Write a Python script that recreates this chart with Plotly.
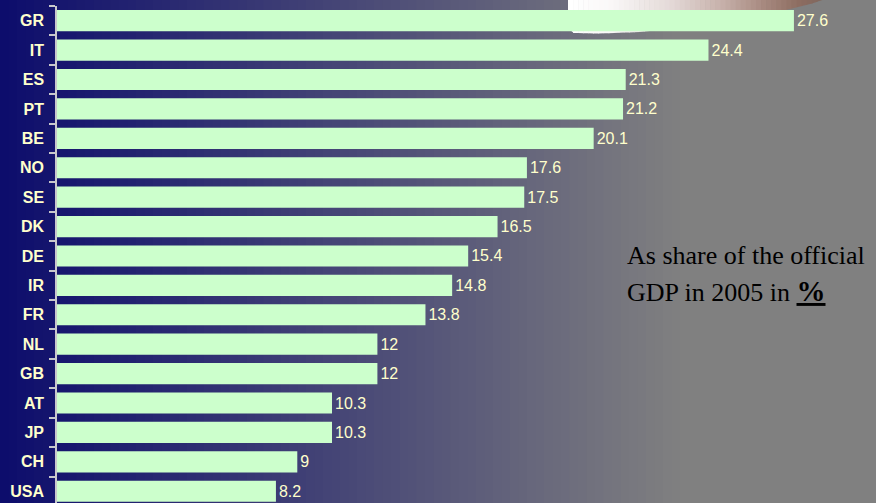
import plotly.graph_objects as go

countries = ["GR", "IT", "ES", "PT", "BE", "NO", "SE", "DK", "DE",
             "IR", "FR", "NL", "GB", "AT", "JP", "CH", "USA"]
values = [27.6, 24.4, 21.3, 21.2, 20.1, 17.6, 17.5, 16.5, 15.4,
          14.8, 13.8, 12, 12, 10.3, 10.3, 9, 8.2]

note_lines = ["As share of the official",
              "GDP in 2005 in <b><u><span style='font-size:29px'>%</span></u></b>"]

W, H = 876, 503


def px_x(x):
    return x / W


def px_y(y):
    return 1 - y / H


def lerp_color(stops, x):
    for (xa, ca), (xb, cb) in zip(stops[:-1], stops[1:]):
        if xa <= x <= xb:
            t = (x - xa) / (xb - xa)
            return tuple(round(a + (b - a) * t) for a, b in zip(ca, cb))
    return stops[-1][1]


def lerp_edge(pts, x):
    for (xa, ya), (xb, yb) in zip(pts[:-1], pts[1:]):
        if xa <= x <= xb:
            return ya + (yb - ya) * (x - xa) / (xb - xa)
    return pts[-1][1]


# background: navy on the left fading into grey
shapes = []
n_strips = 80
grad_end = 680
left_rgb = (12, 12, 108)
right_rgb = (128, 128, 128)
for i in range(n_strips):
    t = (i + 0.5) / n_strips
    c = [round(a + (b - a) * t) for a, b in zip(left_rgb, right_rgb)]
    shapes.append(dict(
        type="rect", xref="paper", yref="paper", layer="below",
        x0=px_x(grad_end * i / n_strips), x1=px_x(grad_end * (i + 1) / n_strips + 1),
        y0=0, y1=1, line_width=0, fillcolor=f"rgb({c[0]},{c[1]},{c[2]})",
    ))
shapes.append(dict(
    type="rect", xref="paper", yref="paper", layer="below",
    x0=px_x(grad_end), x1=1, y0=0, y1=1, line_width=0, fillcolor="rgb(128,128,128)",
))

# partly hidden clip-art at the top right (white to brown sheen)
art_edge = [(568, 28), (572, 33), (600, 33.5), (640, 32), (700, 26), (750, 18),
            (790, 9), (810, 4), (822, 0)]
art_cols = [(568, (255, 255, 255)), (610, (250, 248, 248)), (670, (228, 218, 216)),
            (720, (200, 178, 172)), (765, (166, 136, 126)), (800, (140, 108, 96)),
            (822, (128, 104, 94))]
n_art = 50
for i in range(n_art):
    xa = 568 + (822 - 568) * i / n_art
    xb = 568 + (822 - 568) * (i + 1) / n_art
    ya, yb = lerp_edge(art_edge, xa), lerp_edge(art_edge, xb)
    c = lerp_color(art_cols, (xa + xb) / 2)
    path = (f"M {px_x(xa)},{px_y(0)} L {px_x(xa)},{px_y(ya)} "
            f"L {px_x(xb + 0.6)},{px_y(yb)} L {px_x(xb + 0.6)},{px_y(0)} Z")
    shapes.append(dict(type="path", xref="paper", yref="paper", layer="below",
                       path=path, line_width=0, fillcolor=f"rgb({c[0]},{c[1]},{c[2]})"))

fig = go.Figure()
fig.add_trace(go.Bar(
    x=values, y=countries, orientation="h",
    marker_color="#ccffcc", marker_line_width=0, width=0.72,
    text=[f"{v:g}" for v in values], textposition="outside",
    textfont=dict(family="Arial, Liberation Sans", size=16, color="#ffffcc"),
    cliponaxis=False, hoverinfo="skip",
))

for line, yc in zip(note_lines, [256, 291]):
    fig.add_annotation(
        xref="paper", yref="paper", x=px_x(625), y=px_y(yc),
        xanchor="left", yanchor="middle", align="left", showarrow=False,
        text=line,
        font=dict(family="Liberation Serif, Times New Roman", size=26, color="#000000"),
    )

fig.update_layout(
    width=W, height=H,
    margin=dict(l=0, r=0, t=0, b=0),
    paper_bgcolor="rgb(128,128,128)",
    plot_bgcolor="rgba(0,0,0,0)",
    showlegend=False,
    shapes=shapes,
    xaxis=dict(domain=[px_x(57), px_x(858)], range=[0, 30], visible=False,
               showgrid=False, zeroline=False, automargin=False),
    yaxis=dict(domain=[0, px_y(6)], type="category", categoryorder="array",
               categoryarray=countries, range=[16.4, -0.5],
               showline=True, linecolor="#c8c8cc", linewidth=1.5,
               ticks="outside", tickson="boundaries", ticklen=6, tickcolor="#c8c8cc",
               tickwidth=1.5, showgrid=False, zeroline=False, automargin=False,
               ticklabelstandoff=8,
               tickfont=dict(family="Arial, Liberation Sans", size=16, color="#ffffcc",
                             weight="bold")),
)

fig.write_html("out.html", config={"displayModeBar": False},
               post_script="document.body.style.margin='0px';")
